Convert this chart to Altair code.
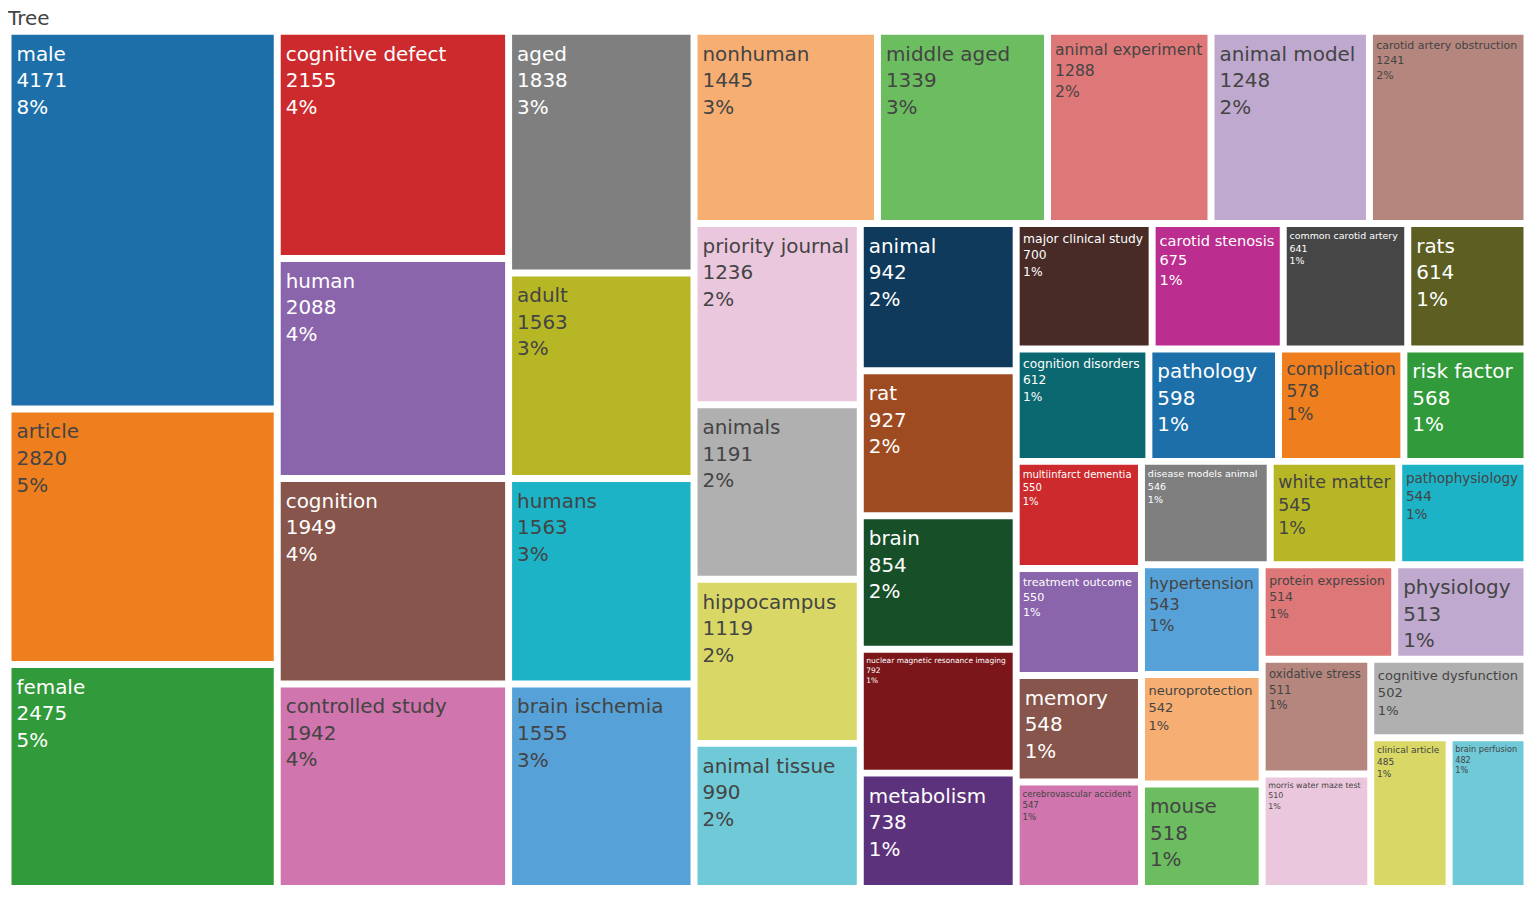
import altair as alt
import pandas as pd

# ---------------- data ----------------
labels = [
    "male", "article", "female", "cognitive defect", "human", "cognition",
    "controlled study", "aged", "adult", "humans", "brain ischemia",
    "nonhuman", "middle aged", "animal experiment", "animal model",
    "carotid artery obstruction", "priority journal", "animals", "hippocampus",
    "animal tissue", "animal", "rat", "brain",
    "nuclear magnetic resonance imaging", "metabolism",
    "major clinical study", "carotid stenosis", "common carotid artery", "rats",
    "cognition disorders", "pathology", "complication", "risk factor",
    "multiinfarct dementia", "treatment outcome", "memory",
    "cerebrovascular accident", "disease models  animal", "white matter",
    "pathophysiology", "hypertension", "neuroprotection", "mouse",
    "protein expression", "physiology", "oxidative stress",
    "morris water maze test", "cognitive dysfunction", "clinical article",
    "brain perfusion",
]
values = [
    4171, 2820, 2475, 2155, 2088, 1949,
    1942, 1838, 1563, 1563, 1555,
    1445, 1339, 1288, 1248,
    1241, 1236, 1191, 1119,
    990, 942, 927, 854,
    792, 738,
    700, 675, 641, 614,
    612, 598, 578, 568,
    550, 550, 548,
    547, 546, 545,
    544, 543, 542, 518,
    514, 513, 511,
    510, 502, 485,
    482,
]
title_text = "Tree"

# ---------------- styling ----------------
ROOT_W, ROOT_H = 1532.5, 864.8      # aspect of the reference's tiling area
W, H = 1524, 860                    # plot area in pixels
GAP = 3.5                           # half of the white gap between tiles (px)
FONT = "DejaVu Sans"
MAX_FS = 20.0
palette = [
    # base
    "#1c6fa9", "#ef7f1e", "#319a3a", "#cc2a2c", "#8b65ab",
    "#87554b", "#d075ae", "#7f7f7f", "#b7b726", "#1cb3c7",
    # lighter
    "#56a1d7", "#f6ae73", "#6cbd5f", "#de7777", "#c0a9cf",
    "#b5867d", "#ebc7dd", "#b0b0b0", "#d9d866", "#6fc9d7",
    # darker
    "#0f3a5c", "#9f4b22", "#174f28", "#7b171b", "#5c327c",
    "#482b26", "#bb2d8f", "#464646", "#5c5e22", "#0c6870",
]


def text_color(hexcol):
    r, g, b = (int(hexcol[i:i + 2], 16) for i in (1, 3, 5))
    return "#444444" if (r * 299 + g * 587 + b * 114) / 1000 >= 128 else "#ffffff"


# approximate DejaVu Sans advance widths (em/1000)
CW = {" ": 318, "a": 613, "b": 635, "c": 550, "d": 635, "e": 615, "f": 352,
      "g": 635, "h": 634, "i": 278, "j": 278, "k": 579, "l": 278, "m": 974,
      "n": 634, "o": 612, "p": 635, "q": 635, "r": 411, "s": 521, "t": 392,
      "u": 634, "v": 592, "w": 818, "x": 592, "y": 592, "z": 525, "%": 950}


def em_width(s):
    return sum(CW.get(ch, 636) for ch in s) / 1000.0


# ---------------- squarified treemap layout (d3 squarify, ratio 1) ----------------
def squarify(vals, x0, y0, x1, y1, ratio=1.0):
    n = len(vals)
    rects = [None] * n
    i0 = i1 = 0
    value = float(sum(vals))
    while i0 < n:
        dx, dy = x1 - x0, y1 - y0
        sumv = vals[i1]
        i1 += 1
        minv = maxv = sumv
        alpha = max(dy / dx, dx / dy) / (value * ratio)
        beta = sumv * sumv * alpha
        minr = max(maxv / beta, beta / minv)
        while i1 < n:
            nv = vals[i1]
            sumv += nv
            minv = min(minv, nv)
            maxv = max(maxv, nv)
            beta = sumv * sumv * alpha
            newr = max(maxv / beta, beta / minv)
            if newr > minr:
                sumv -= nv
                break
            minr = newr
            i1 += 1
        if dx < dy:
            yb = y0 + dy * sumv / value
            xx, k = x0, (x1 - x0) / sumv
            for i in range(i0, i1):
                rects[i] = (xx, y0, xx + vals[i] * k, yb)
                xx += vals[i] * k
            y0 = yb
        else:
            xb = x0 + dx * sumv / value
            yy, k = y0, (y1 - y0) / sumv
            for i in range(i0, i1):
                rects[i] = (x0, yy, xb, yy + vals[i] * k)
                yy += vals[i] * k
            x0 = xb
        value -= sumv
        i0 = i1
    return rects


total = sum(values)
rects = squarify(values, 0, 0, ROOT_W, ROOT_H)
sx, sy = ROOT_W / W, ROOT_H / H     # data units per pixel

tiles, texts = [], []
for i, (lab, v) in enumerate(zip(labels, values)):
    x0, y0, x1, y1 = rects[i]
    x0, x1 = x0 + GAP * sx, x1 - GAP * sx
    y0, y1 = y0 + GAP * sy, y1 - GAP * sy
    col = palette[i % len(palette)]
    tiles.append({"label": lab, "value": v, "x0": x0, "x1": x1, "y0": y0, "y1": y1, "color": col})
    lines = [lab, str(v), "%d%%" % int(round(v / total * 100))]
    w_px, h_px = (x1 - x0) / sx, (y1 - y0) / sy
    fs = min(MAX_FS, (w_px - 9) / max(em_width(s) for s in lines), (h_px - 4) / 4.1)
    for k, s in enumerate(lines):
        texts.append({"line": s,
                      "tx": x0 + (1 + 0.2 * fs) * sx,
                      "ty": y0 + (1.3 * fs + k * 1.33 * fs) * sy,
                      "fs": fs, "tcolor": text_color(col)})

tile_df = pd.DataFrame(tiles)
text_df = pd.DataFrame(texts)

xs = alt.Scale(domain=[0, ROOT_W], nice=False, zero=False)
ys = alt.Scale(domain=[0, ROOT_H], nice=False, zero=False, reverse=True)

rect_layer = alt.Chart(tile_df).mark_rect().encode(
    x=alt.X("x0:Q", scale=xs, axis=None),
    x2="x1:Q",
    y=alt.Y("y0:Q", scale=ys, axis=None),
    y2="y1:Q",
    color=alt.Color("color:N", scale=None),
    tooltip=["label:N", "value:Q"],
)

text_layer = alt.Chart(text_df).mark_text(align="left", baseline="alphabetic", font=FONT).encode(
    x=alt.X("tx:Q", scale=xs, axis=None),
    y=alt.Y("ty:Q", scale=ys, axis=None),
    text="line:N",
    size=alt.Size("fs:Q", scale=None),
    color=alt.Color("tcolor:N", scale=None),
)

chart = alt.layer(rect_layer, text_layer).properties(
    width=W,
    height=H,
    padding=0,
    title=alt.TitleParams(title_text, anchor="start", fontSize=20, font=FONT,
                          fontWeight="normal", color="#444444", offset=2),
).configure_view(stroke=None)

chart.save("out.html", embed_options={"renderer": "svg", "actions": False})
